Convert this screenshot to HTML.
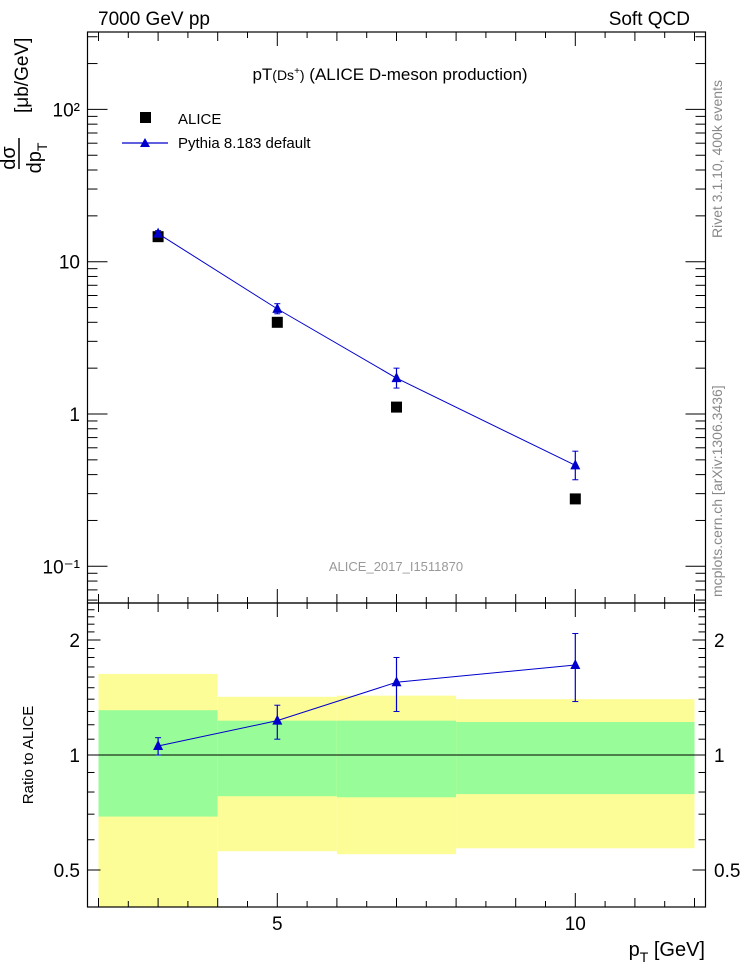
<!DOCTYPE html>
<html><head><meta charset="utf-8"><style>
body{margin:0;background:#fff;}
svg{display:block;font-family:"Liberation Sans",sans-serif;}
</style></head><body>
<svg id="c" width="746" height="972" xmlns="http://www.w3.org/2000/svg">
<text x="98" y="25" font-size="19">7000 GeV pp</text>
<text x="690" y="25" font-size="19" text-anchor="end">Soft QCD</text>
<text x="390" y="80" font-size="17" text-anchor="middle">pT<tspan font-size="14">(Ds</tspan><tspan font-size="10" dy="-6">+</tspan><tspan font-size="14" dy="6">)</tspan> (ALICE D-meson production)</text>
<text x="396" y="571" font-size="13" fill="#999" text-anchor="middle">ALICE_2017_I1511870</text>
<text transform="translate(722,238) rotate(-90)" font-size="14" fill="#888">Rivet 3.1.10, 400k events</text>
<text transform="translate(722,597) rotate(-90)" font-size="14" fill="#888">mcplots.cern.ch [arXiv:1306.3436]</text>
<g font-size="20">
<text transform="translate(15,158) rotate(-90)" text-anchor="middle">dσ</text>
<line x1="19" y1="138" x2="19" y2="169" stroke="#000" stroke-width="1.5"/>
<text transform="translate(41,158) rotate(-90)" text-anchor="middle">dp<tspan font-size="14" dy="6">T</tspan></text>
<text transform="translate(28,113) rotate(-90)" font-size="19">[μb/GeV]</text>
</g>
<text transform="translate(33,755) rotate(-90)" font-size="15" text-anchor="middle">Ratio to ALICE</text>
<text x="705" y="956" font-size="20" text-anchor="end">p<tspan font-size="14" dy="6">T</tspan><tspan dy="-6"> [GeV]</tspan></text>
<g>
<rect x="140" y="112" width="11" height="11" fill="#000"/>
<text x="178" y="124" font-size="15">ALICE</text>
<line x1="122" y1="143" x2="168" y2="143" stroke="#00c" stroke-width="1.2"/>
<polygon points="145,138 140,147 150,147" fill="#00c"/>
<text x="178" y="148" font-size="15">Pythia 8.183 default</text>
</g>
<g id="g"></g>
</svg>
<script>
const xEdges=[2,4,6,8,12];
const xPts=[3,5,7,10];
const aliceVals=[14.6,4.0,1.11,0.277];
const pythiaVals=[15.3,4.9,1.72,0.46];
const pythiaErrLo=[14.6,4.55,1.48,0.37];
const pythiaErrHi=[16.0,5.3,2.0,0.57];
const ratioVals=[1.056,1.23,1.55,1.72];
const ratioLo=[1.0,1.1,1.3,1.38];
const ratioHi=[1.11,1.35,1.8,2.08];
const greenLo=[0.69,0.78,0.775,0.79];
const greenHi=[1.31,1.23,1.23,1.22];
const yellowLo=[0.3,0.56,0.55,0.57];
const yellowHi=[1.63,1.42,1.43,1.40];
const mainTicks=[[100,"10²"],[10,"10"],[1,"1"],[0.1,"10⁻¹"]];
const ratioTicks=[2,1,0.5];
const xTicks=[5,10];

const NS="http://www.w3.org/2000/svg";
const g=document.getElementById('g');
const L=87.5,R=705.5,T=32,M=603,B=907;
const X=v=>98.5+(v-2)*59.6;
const Y=v=>414-Math.log10(v)*152.3;
const YR=v=>755-Math.log2(v)*115;
function el(t,a,p){const e=document.createElementNS(NS,t);for(const k in a)e.setAttribute(k,a[k]);(p||g).appendChild(e);return e;}
for(let i=0;i<4;i++){
 const x0=X(xEdges[i]),x1=X(xEdges[i+1]);
 const y0=Math.min(YR(yellowHi[i]),B),y1=Math.min(YR(yellowLo[i]),B);
 const r=el('rect',{x:x0,y:y0,width:x1-x0,height:y1-y0,fill:'#fdfd98'});
 
 
 const r2=el('rect',{x:x0,y:YR(greenHi[i]),width:x1-x0,height:YR(greenLo[i])-YR(greenHi[i]),fill:'#98fd98'});
 
 
}
el('line',{x1:L,y1:YR(1),x2:R,y2:YR(1),stroke:'#000','stroke-width':1});
el('rect',{x:L,y:T,width:R-L,height:M-T,fill:'none',stroke:'#000','stroke-width':1.2});
el('rect',{x:L,y:M,width:R-L,height:B-M,fill:'none',stroke:'#000','stroke-width':1.2});
for(let v=2;v<=12;v+=0.5){
 const big=(v%5===0)?1:0, mid=Number.isInteger(v);
 const len=big?14:(mid?9:6);
 [[T,1],[M,-1],[M,1],[B,-1]].forEach(([y,d])=>el('line',{x1:X(v),y1:y,x2:X(v),y2:y+d*len,stroke:'#000'}));
}
xTicks.forEach(v=>{const t=el('text',{x:X(v),y:930,'font-size':19,'text-anchor':'middle'});t.textContent=v;
 
 });
for(let e=-2;e<=2;e++)for(let m=1;m<10;m++){const v=m*Math.pow(10,e);const y=Y(v);if(y<T||y>M)continue;
 const len=m===1?20:10;el('line',{x1:L,y1:y,x2:L+len,y2:y,stroke:'#000'});el('line',{x1:R,y1:y,x2:R-len,y2:y,stroke:'#000'});}
mainTicks.forEach(([v,s])=>{const t=el('text',{x:80,y:Y(v)+7,'font-size':19,'text-anchor':'end'});t.textContent=s;
 
 });
for(let v=0.4;v<=2.5;v+=0.1){const y=YR(v);if(y<M||y>B)continue;const maj=[0.5,1,2].some(a=>Math.abs(a-v)<1e-6);
 const len=maj?13:7;el('line',{x1:L,y1:y,x2:L+len,y2:y,stroke:'#000'});el('line',{x1:R,y1:y,x2:R-len,y2:y,stroke:'#000'});}
ratioTicks.forEach(v=>{[[80,'end'],[714,'start']].forEach(([x,a])=>{const t=el('text',{x:x,y:YR(v)+7,'font-size':19,'text-anchor':a});t.textContent=v;
 
 });});
el('polyline',{points:xPts.map((x,i)=>X(x)+','+Y(pythiaVals[i])).join(' '),fill:'none',stroke:'#00c','stroke-width':1});
xPts.forEach((x,i)=>{
 const s=el('rect',{x:X(x)-5.5,y:Y(aliceVals[i])-5.5,width:11,height:11,fill:'#000'});
 
 
 const cx=X(x);
 el('line',{x1:cx,y1:Y(pythiaErrLo[i]),x2:cx,y2:Y(pythiaErrHi[i]),stroke:'#00c','stroke-width':1.2});
 [pythiaErrLo[i],pythiaErrHi[i]].forEach(v=>el('line',{x1:cx-3,y1:Y(v),x2:cx+3,y2:Y(v),stroke:'#00c'}));
 const y=Y(pythiaVals[i]);
 const p=el('polygon',{points:`${cx},${y-6} ${cx-5},${y+4} ${cx+5},${y+4}`,fill:'#00c'});
 
 
});
el('polyline',{points:xPts.map((x,i)=>X(x)+','+YR(ratioVals[i])).join(' '),fill:'none',stroke:'#00c','stroke-width':1});
xPts.forEach((x,i)=>{
 const cx=X(x);
 el('line',{x1:cx,y1:YR(ratioLo[i]),x2:cx,y2:YR(ratioHi[i]),stroke:'#00c','stroke-width':1.2});
 [ratioLo[i],ratioHi[i]].forEach(v=>el('line',{x1:cx-3,y1:YR(v),x2:cx+3,y2:YR(v),stroke:'#00c'}));
 const y=YR(ratioVals[i]);
 const p=el('polygon',{points:`${cx},${y-6} ${cx-5},${y+4} ${cx+5},${y+4}`,fill:'#00c'});
 
 
});
</script>
</body></html>
